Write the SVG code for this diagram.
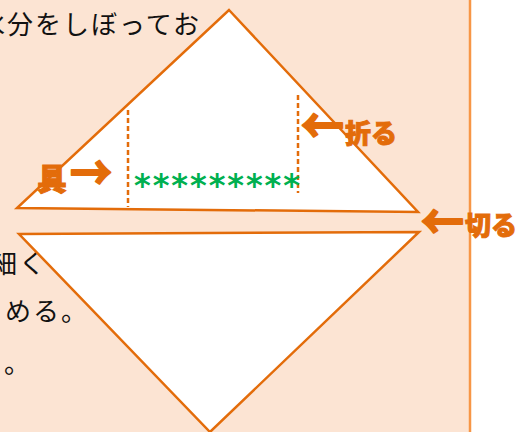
<svg xmlns="http://www.w3.org/2000/svg" width="531" height="432" viewBox="0 0 531 432">
  <style>
    .body { font-family: "Noto Sans CJK JP", "Noto Sans", sans-serif; font-size: 26px; letter-spacing: 2px; fill: #111111; }
    .lbl { font-family: "Noto Sans CJK JP", "Noto Sans", sans-serif; font-weight: 900; fill: #E36C0A; stroke: #E36C0A; stroke-width: 1; }
    .arr { font-family: "Noto Sans CJK JP", sans-serif; font-weight: bold; font-size: 48px; fill: #E36C0A; stroke: #E36C0A; stroke-width: 2; stroke-linejoin: round; }
    .tri { fill: #ffffff; stroke: #E36C0A; stroke-width: 2.5; stroke-linejoin: miter; }
    .fold { fill: none; stroke: #E36C0A; stroke-width: 2.5; stroke-dasharray: 5 3; }
  </style>
  <g id="panel">
    <rect x="0" y="0" width="470" height="432" fill="#FCE4D3"/>
    <line x1="470" y1="0" x2="470" y2="432" stroke="#F79646" stroke-width="2.5"/>
  </g>
  <g id="body-text">
    <text class="body" x="-21" y="34">水分をしぼってお</text>
    <text class="body" x="-9" y="273">細く</text>
    <text class="body" x="-23" y="321">とめる。</text>
    <text class="body" x="4" y="373">。</text>
  </g>
  <g id="top-triangle">
    <polygon class="tri" points="229,10 418,212 17,208"/>
    <line class="fold" x1="128" y1="110" x2="128" y2="207"/>
    <line class="fold" x1="298" y1="95" x2="298" y2="193"/>
    <text x="134" y="196" font-family="DejaVu Sans, sans-serif" font-weight="bold" font-size="32" fill="#00B050" textLength="166" lengthAdjust="spacing">*********</text>
  </g>
  <g id="bottom-triangle">
    <polygon class="tri" points="19,234 419,232 210,432"/>
  </g>
  <g id="label-gu">
    <text class="lbl" x="37" y="190" font-size="30">具</text>
    <text class="arr" x="70" y="190" textLength="42" lengthAdjust="spacingAndGlyphs">→</text>
  </g>
  <g id="label-oru">
    <text class="arr" x="301" y="143" textLength="43" lengthAdjust="spacingAndGlyphs">←</text>
    <text class="lbl" x="345" y="143" font-size="26">折る</text>
  </g>
  <g id="label-kiru">
    <text class="arr" x="421" y="239" textLength="43" lengthAdjust="spacingAndGlyphs">←</text>
    <text class="lbl" x="465" y="235" font-size="26">切る</text>
  </g>
</svg>
